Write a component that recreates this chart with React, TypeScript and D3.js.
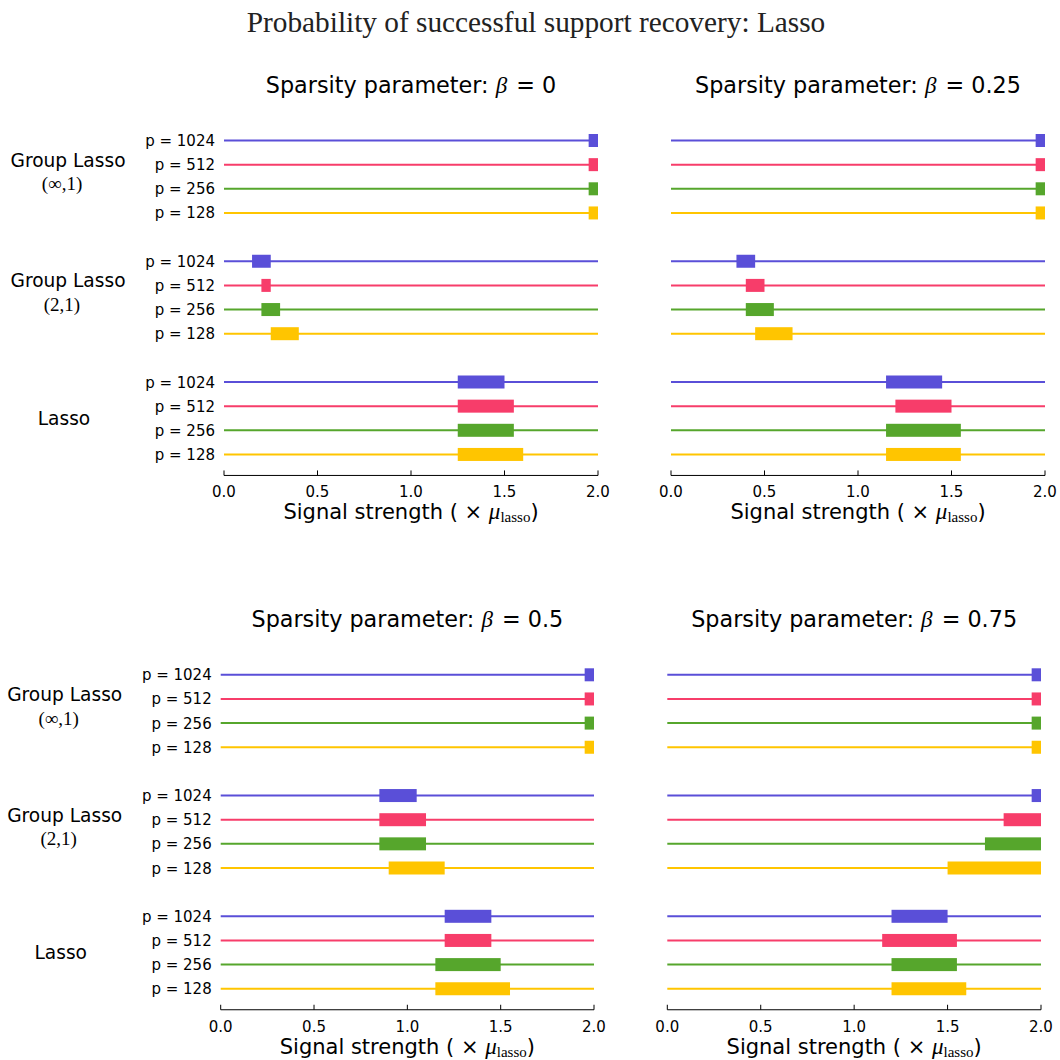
import React from "react";
import * as d3 from "d3";

// ---------- data ----------
const xTicks = [0, 0.5, 1.0, 1.5, 2.0];
const pLabels = ["p = 1024", "p = 512", "p = 256", "p = 128"];
const seriesColors = ["#5a4fd8", "#f73d6a", "#56a62c", "#ffc500"];
const methodNames = ["Group Lasso", "Group Lasso", "Lasso"];
const methodSubs = ["(∞,1)", "(2,1)", ""];
const betaValues = ["0", "0.25", "0.5", "0.75"];

// transition intervals [start, end] per method (GL inf, GL 2, Lasso) x p (1024, 512, 256, 128)
const rangesBeta0 = [
  [1.95, 2.0], [1.95, 2.0], [1.95, 2.0], [1.95, 2.0],
  [0.15, 0.25], [0.2, 0.25], [0.2, 0.3], [0.25, 0.4],
  [1.25, 1.5], [1.25, 1.55], [1.25, 1.55], [1.25, 1.6],
];
const rangesBeta025 = [
  [1.95, 2.0], [1.95, 2.0], [1.95, 2.0], [1.95, 2.0],
  [0.35, 0.45], [0.4, 0.5], [0.4, 0.55], [0.45, 0.65],
  [1.15, 1.45], [1.2, 1.5], [1.15, 1.55], [1.15, 1.55],
];
const rangesBeta05 = [
  [1.95, 2.0], [1.95, 2.0], [1.95, 2.0], [1.95, 2.0],
  [0.85, 1.05], [0.85, 1.1], [0.85, 1.1], [0.9, 1.2],
  [1.2, 1.45], [1.2, 1.45], [1.15, 1.5], [1.15, 1.55],
];
const rangesBeta075 = [
  [1.95, 2.0], [1.95, 2.0], [1.95, 2.0], [1.95, 2.0],
  [1.95, 2.0], [1.8, 2.0], [1.7, 2.0], [1.5, 2.0],
  [1.2, 1.5], [1.15, 1.55], [1.2, 1.55], [1.2, 1.6],
];
const allRanges = [rangesBeta0, rangesBeta025, rangesBeta05, rangesBeta075];

// ---------- layout ----------
const layout = [
  { x0: 224, x1: 598, y0: 140.5, labels: true },
  { x0: 671, x1: 1045, y0: 140.5, labels: false },
  { x0: 220.7, x1: 594, y0: 674.8, labels: true },
  { x0: 667.3, x1: 1041, y0: 674.8, labels: false },
];
const rowStep = 24.15;
const sans = "DejaVu Sans";
const serif = "Liberation Serif";

function Panel({ idx }: { idx: number }) {
  const L = layout[idx];
  const ranges = allRanges[idx];
  const x = d3.scaleLinear().domain([0, 2]).range([L.x0, L.x1]);
  const y = d3.scaleLinear().domain([0, 13]).range([L.y0, L.y0 + 13 * rowStep]);
  const axisY = y(13) + 21;
  const cx = (L.x0 + L.x1) / 2;
  const rows: any[] = [];
  methodNames.forEach((_, m) => {
    pLabels.forEach((pl, k) => {
      const r = m * 5 + k;
      const [a, b] = ranges[m * 4 + k];
      rows.push(
        <g key={r}>
          {L.labels && (
            <text x={L.x0 - 9} y={y(r) + 5.5} textAnchor="end" fontFamily={sans} fontSize={15} fill="#000">
              {pl}
            </text>
          )}
          <line x1={x(0)} x2={x(2)} y1={y(r)} y2={y(r)} stroke={seriesColors[k]} strokeWidth={2} />
          <rect x={x(a)} y={y(r) - 6.5} width={x(b) - x(a)} height={13} fill={seriesColors[k]} />
        </g>
      );
    });
  });
  const groupLabels = L.labels
    ? methodNames.map((name, m) => {
        const c = y(m * 5 + 1.5);
        if (methodSubs[m]) {
          return (
            <g key={"g" + m}>
              <text x={L.x0 - 156} y={c - 10} textAnchor="middle" fontFamily={sans} fontSize={18.6}>{name}</text>
              <text x={L.x0 - 162} y={c + 13.5} textAnchor="middle" fontFamily={serif} fontSize={19}>{methodSubs[m]}</text>
            </g>
          );
        }
        return (
          <text key={"g" + m} x={L.x0 - 160} y={c + 6.5} textAnchor="middle" fontFamily={sans} fontSize={18.6}>{name}</text>
        );
      })
    : null;
  return (
    <g>
      <text x={cx} y={L.y0 - 48} textAnchor="middle" fontFamily={sans} fontSize={22.3}>
        <tspan>Sparsity parameter: </tspan>
        <tspan fontFamily={serif} fontStyle="italic" fontSize={23}>β</tspan>
        <tspan dx={2}> = {betaValues[idx]}</tspan>
      </text>
      {groupLabels}
      {rows}
      <line x1={x(0)} x2={x(2)} y1={axisY} y2={axisY} stroke="#000" strokeWidth={1} />
      {xTicks.map((t) => (
        <g key={t}>
          <line x1={x(t)} x2={x(t)} y1={axisY} y2={axisY - 5} stroke="#000" strokeWidth={1} />
          <text x={x(t)} y={axisY + 22} textAnchor="middle" fontFamily={sans} fontSize={15}>
            {d3.format(".1f")(t)}
          </text>
        </g>
      ))}
      <text x={cx} y={axisY + 44} textAnchor="middle" fontFamily={sans} fontSize={21}>
        <tspan>Signal strength ( × </tspan>
        <tspan fontFamily={serif} fontStyle="italic" fontSize={23}>μ</tspan>
        <tspan fontFamily={serif} fontSize={15} dy={3}>lasso</tspan>
        <tspan dy={-3}>)</tspan>
      </text>
    </g>
  );
}

export default function App() {
  return (
    <svg width={1060} height={1060} style={{ position: "absolute", left: 0, top: 0, background: "#fff" }}>
      <rect width={1060} height={1060} fill="#fff" />
      <text x={536} y={32} textAnchor="middle" fontFamily={serif} fontSize={29.3} fill="#222">
        Probability of successful support recovery: Lasso
      </text>
      {[0, 1, 2, 3].map((i) => (
        <Panel key={i} idx={i} />
      ))}
    </svg>
  );
}
